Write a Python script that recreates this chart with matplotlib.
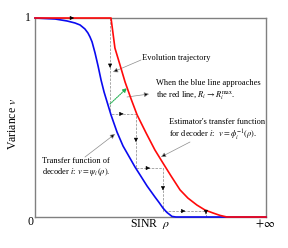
import matplotlib
matplotlib.use("Agg")
import matplotlib.pyplot as plt

plt.rcParams['font.family'] = ['Liberation Serif', 'DejaVu Serif']
plt.rcParams['mathtext.fontset'] = 'stix'

# Decoder transfer function (blue)
blue_x = [0.0, 0.087, 0.139, 0.173, 0.195, 0.216, 0.229, 0.238, 0.247, 0.260,
          0.273, 0.286, 0.299, 0.316, 0.329, 0.355, 0.381, 0.411, 0.433, 0.455,
          0.485, 0.519, 0.537, 0.554, 0.571, 0.593, 0.610, 1.0]
blue_y = [1.0, 0.995, 0.985, 0.975, 0.965, 0.945, 0.925, 0.905, 0.880, 0.824,
          0.759, 0.688, 0.628, 0.563, 0.513, 0.427, 0.357, 0.296, 0.251, 0.211,
          0.156, 0.101, 0.073, 0.045, 0.023, 0.003, 0.0, 0.0]

# Estimator transfer function (red)
red_x = [0.0, 0.329, 0.346, 0.368, 0.390, 0.416, 0.442, 0.481, 0.519, 0.554,
         0.589, 0.628, 0.662, 0.701, 0.736, 0.771, 0.801, 0.831, 1.0]
red_y = [1.0, 1.0, 0.849, 0.764, 0.678, 0.593, 0.513, 0.422, 0.337, 0.271,
         0.206, 0.136, 0.095, 0.060, 0.035, 0.020, 0.008, 0.0, 0.0]

# Evolution trajectory (staircase)
traj_x = [0.0, 0.325, 0.325, 0.437, 0.437, 0.554, 0.554, 0.740, 0.740]
traj_y = [1.0, 1.0, 0.518, 0.518, 0.246, 0.246, 0.030, 0.030, 0.0]

W, H = 288, 248
fig = plt.figure(figsize=(W / 100, H / 100), dpi=100)
L, R, T, B = 35, 266, 18, 217
ax = fig.add_axes([L / W, 1 - B / H, (R - L) / W, (B - T) / H])
ax.set_xlim(0, 1)
ax.set_ylim(0, 1)
for s in ax.spines.values():
    s.set_color('#808080')
    s.set_linewidth(1.0)
ax.set_xticks([])
ax.set_yticks([])

# trajectory
ax.plot(traj_x, traj_y, color='#9a9a9a', lw=0.6, ls=(0, (3, 1.5)), zorder=2)
for i in range(len(traj_x) - 1):
    x0, y0, x1, y1 = traj_x[i], traj_y[i], traj_x[i + 1], traj_y[i + 1]
    mx, my = (x0 + x1) / 2, (y0 + y1) / 2
    dx, dy = (x1 - x0) * 0.02, (y1 - y0) * 0.02
    ax.annotate('', xy=(mx + dx, my + dy), xytext=(mx - dx, my - dy),
                arrowprops=dict(arrowstyle='-|>', mutation_scale=6, color='black',
                                lw=0.4, shrinkA=0, shrinkB=0), zorder=5)

ax.plot(blue_x, blue_y, color='#0a0af0', lw=1.2, zorder=3, clip_on=False)
ax.plot(red_x, red_y, color='#ff0a0a', lw=1.2, zorder=4, clip_on=False)

def px(x, y):
    return ((x - L) / (R - L), (B - y) / (B - T))

fs = 6.0
def ann(text, tpos, start, end, ha='left'):
    if text:
        ax.text(*px(*tpos), text, transform=ax.transAxes, fontsize=fs,
                ha=ha, va='center', linespacing=1.15)
    ax.annotate('', xy=px(*end), xytext=px(*start), xycoords='axes fraction',
                textcoords='axes fraction',
                arrowprops=dict(arrowstyle='-|>', mutation_scale=7, lw=0.5,
                                ec='#8c8c8c', fc='black', shrinkA=0, shrinkB=0))

ann('Evolution trajectory', (142, 58), (141, 60), (113, 72))
ann('When the blue line approaches\nthe red line, $R_i \\rightarrow R_i^{\\max}$.',
    (156, 90.5), (127, 97), (149, 94))
ann("Estimator's transfer function\nfor decoder $i$:  $v = \\phi_i^{-1}(\\rho)$.",
    (169, 130), (190, 142), (161, 157))
ann('Transfer function of\ndecoder $i$: $v = \\psi_i\\,(\\rho)$.',
    (42, 167.5), (85, 157), (115, 134))

# green arrow
ax.annotate('', xy=px(127, 88), xytext=px(110, 104), xycoords='axes fraction',
            textcoords='axes fraction',
            arrowprops=dict(arrowstyle='-|>', mutation_scale=6, lw=0.8,
                            color='#20b050', ls=(0, (1, 1)), shrinkA=0, shrinkB=0))

# axis labels
afs = 8.5
ax.text(*px(28, 18), '1', transform=ax.transAxes, fontsize=afs, ha='center', va='center')
ax.text(*px(30, 222), '0', transform=ax.transAxes, fontsize=afs, ha='center', va='center')
ax.text(*px(265, 224), '$+\\infty$', transform=ax.transAxes, fontsize=afs, ha='center', va='center')
ax.text(*px(150, 224), 'SINR  $\\rho$', transform=ax.transAxes, fontsize=afs, ha='center', va='center')
ax.text(*px(13, 124), 'Variance $v$', transform=ax.transAxes, fontsize=afs, ha='center',
        va='center', rotation=90)

fig.savefig('out.png', dpi=100)
